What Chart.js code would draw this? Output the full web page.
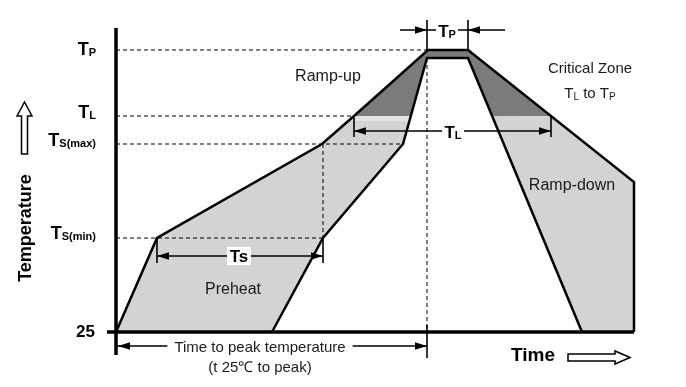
<!DOCTYPE html>
<html>
<head>
<meta charset="utf-8">
<script src="https://cdn.jsdelivr.net/npm/chart.js@4.4.0/dist/chart.umd.min.js"></script>
<style>
  html, body { margin: 0; padding: 0; background: #fff; overflow: hidden; }
  canvas { display: block; }
</style>
</head>
<body>
<canvas id="profile" width="686" height="387"></canvas>
<script>
// temperature levels (diagram units, not to scale)
const tP = 307, tPin = 299, tL = 241, tSmax = 213, tSmin = 119, tBase = 25;

// outer (upper) and inner (lower) edge of the profile band
const outerTime = [0, 41, 206, 238, 312, 352, 518, 518];
const outerTemp = [25, 119, 213, 241, 307, 307, 175, 25];
const innerTime = [156, 207, 287, 311, 352, 466];
const innerTemp = [25, 119, 213, 299, 299, 25];

// critical zone, T_L to T_P
const zoneTime = [238, 312, 352, 435, 376, 352, 311, 295];
const zoneTemp = [241, 307, 307, 241, 241, 299, 299, 241];

// pale strip just under T_L
const stripLeftTime = [232, 238, 295, 293];
const stripRightTime = [376, 435, 441, 378];
const stripTemp = [236, 241, 241, 236];

// y tick labels
const tickTemps = [tP, tL, tSmax, tSmin];
const tickSubs = ['P', 'L', 'S(max)', 'S(min)'];

const FONT = "'Liberation Sans', Arial, sans-serif";

const pts = (xs, ys) => xs.map((v, i) => ({ x: v, y: ys[i] }));
const path = (xs, ys, opts) => Object.assign({
  data: pts(xs, ys), showLine: true, pointRadius: 0,
  borderColor: '#000', borderWidth: 1, fill: false
}, opts);
const area = (xs, ys, color) => path(xs, ys, { fill: 'shape', backgroundColor: color, borderColor: 'transparent', borderWidth: 0 });
const dash = (x1, y1, x2, y2) => path([x1, x2], [y1, y2], { borderDash: [4, 3] });
const seg = (x1, y1, x2, y2, w) => path([x1, x2], [y1, y2], { borderWidth: w || 1.6 });

// band polygon = outer edge + inner edge reversed
const bandTime = outerTime.concat(innerTime.slice().reverse());
const bandTemp = outerTemp.concat(innerTemp.slice().reverse());

// datasets listed bottom -> top, reversed below for chart.js draw order
const layers = [
  area(bandTime, bandTemp, '#d3d3d3'),
  area(zoneTime, zoneTemp, '#7b7b7b'),
  area(stripLeftTime, stripTemp, '#e2e2e2'),
  area(stripRightTime, stripTemp, '#e2e2e2'),

  dash(0, tP, outerTime[4], tP),
  dash(0, tL, outerTime[3], tL),
  dash(0, tSmax, innerTime[2], tSmax),
  dash(0, tSmin, innerTime[1], tSmin),
  dash(innerTime[1], tSmax, innerTime[1], tSmin),
  dash(innerTime[3], tPin, innerTime[3], tBase),

  // Ts dimension
  seg(outerTime[1], 101, innerTime[1], 101),
  seg(outerTime[1], 94, outerTime[1], tSmin),
  seg(innerTime[1], 94, innerTime[1], tSmin),
  // TL dimension
  seg(outerTime[3], 226, 435, 226),
  seg(outerTime[3], 220, outerTime[3], 240),
  seg(435, 220, 435, 240),
  // TP dimension
  seg(284, 327, 389, 327),
  seg(innerTime[3], 337, innerTime[3], tP),
  seg(outerTime[5], 337, outerTime[5], tP),
  // time to peak
  seg(0, 11, innerTime[3], 11),
  seg(innerTime[3], 32, innerTime[3], -1),

  path(outerTime, outerTemp, { borderWidth: 2.5 }),
  path(innerTime, innerTemp, { borderWidth: 2.5 }),

  // axes
  seg(0, 2, 0, 329, 3.5),
  seg(-9, tBase, 518, tBase, 3.5)
];

function runs(ctx, px, py, list, align) {
  let total = 0;
  list.forEach(r => { ctx.font = r[1]; total += ctx.measureText(r[0]).width; });
  let x0 = align === 'right' ? px - total : align === 'center' ? px - total / 2 : px;
  ctx.textAlign = 'left';
  ctx.textBaseline = 'alphabetic';
  list.forEach(r => {
    ctx.font = r[1];
    ctx.fillText(r[0], x0, py + (r[2] || 0));
    x0 += ctx.measureText(r[0]).width;
  });
  return total;
}

function head(ctx, px, py, dir) {
  const s = dir === 'r' ? -1 : 1;
  ctx.beginPath();
  ctx.moveTo(px, py);
  ctx.lineTo(px + s * 12, py - 3.8);
  ctx.lineTo(px + s * 12, py + 3.8);
  ctx.closePath();
  ctx.fill();
}

function whiteBox(ctx, cx, cy, w, h) {
  ctx.fillStyle = '#fff';
  ctx.fillRect(cx - w / 2, cy - h / 2, w, h);
  ctx.fillStyle = '#000';
}

const annotate = {
  id: 'annotate',
  afterDatasetsDraw(chart) {
    const { ctx, scales: { x, y } } = chart;
    const X = v => x.getPixelForValue(v), Y = v => y.getPixelForValue(v);
    const bold = s => `bold ${s}px ${FONT}`;
    const reg = s => `${s}px ${FONT}`;
    ctx.save();
    ctx.fillStyle = '#000';

    // arrow heads
    head(ctx, X(outerTime[1]), Y(101), 'l');
    head(ctx, X(innerTime[1]), Y(101), 'r');
    head(ctx, X(outerTime[3]), Y(226), 'l');
    head(ctx, X(435), Y(226), 'r');
    head(ctx, X(innerTime[3]), Y(327), 'r');
    head(ctx, X(outerTime[5]), Y(327), 'l');
    head(ctx, X(0) + 2, Y(11), 'l');
    head(ctx, X(innerTime[3]), Y(11), 'r');

    // dimension labels
    whiteBox(ctx, X(123), Y(101), 24, 18);
    ctx.font = bold(17); ctx.textAlign = 'center'; ctx.textBaseline = 'middle';
    ctx.fillText('Ts', X(123), Y(101) + 1);

    whiteBox(ctx, X(337), Y(226), 22, 18);
    runs(ctx, X(337), Y(226) + 7, [['T', bold(17)], ['L', bold(11), 1]], 'center');

    whiteBox(ctx, X(331), Y(327), 22, 18);
    runs(ctx, X(331), Y(327) + 7, [['T', bold(17)], ['P', bold(11), 1]], 'center');

    ctx.font = reg(15);
    const w1 = ctx.measureText('Time to peak temperature').width;
    whiteBox(ctx, X(144), Y(11), w1 + 14, 16);
    ctx.fillStyle = '#1a1a1a';
    ctx.textAlign = 'center'; ctx.textBaseline = 'middle';
    ctx.fillText('Time to peak temperature', X(144), Y(9));
    ctx.fillText('(t 25\u2103 to peak)', X(144), Y(-11));

    // region labels
    ctx.font = reg(16);
    ctx.fillText('Ramp-up', X(212), Y(280));
    ctx.fillText('Ramp-down', X(456), Y(171));
    ctx.fillText('Preheat', X(117), Y(67));
    ctx.font = reg(15);
    ctx.fillText('Critical Zone', X(474), Y(288));
    runs(ctx, X(474), Y(265) + 6, [['T', reg(15)], ['L', reg(10), 2], [' to T', reg(15)], ['P', reg(10), 2]], 'center');

    // y tick labels
    ctx.fillStyle = '#000';
    const drops = [5, 2, 2, 1];
    tickTemps.forEach((t, i) => {
      runs(ctx, X(-20), Y(t) + drops[i], [['T', bold(18)], [tickSubs[i], bold(11), 1]], 'right');
    });
    ctx.font = bold(17); ctx.textAlign = 'right'; ctx.textBaseline = 'middle';
    ctx.fillText(String(tBase), X(-21), Y(tBase));

    // axis titles
    ctx.save();
    ctx.translate(X(-90), Y(129));
    ctx.rotate(-Math.PI / 2);
    ctx.font = bold(18); ctx.textAlign = 'center'; ctx.textBaseline = 'middle';
    ctx.fillText('Temperature', 0, 0);
    ctx.restore();

    ctx.font = bold(19); ctx.textAlign = 'center'; ctx.textBaseline = 'middle';
    ctx.fillText('Time', X(417), Y(1));

    // hollow arrows
    ctx.lineWidth = 1.5; ctx.strokeStyle = '#000';
    const ux = X(-91.5);
    ctx.beginPath();
    ctx.moveTo(ux, Y(255));
    ctx.lineTo(ux + 7.5, Y(241)); ctx.lineTo(ux + 3, Y(241)); ctx.lineTo(ux + 3, Y(203));
    ctx.lineTo(ux - 3, Y(203)); ctx.lineTo(ux - 3, Y(241)); ctx.lineTo(ux - 7.5, Y(241));
    ctx.closePath(); ctx.stroke();

    const ry = Y(-0.5);
    ctx.beginPath();
    ctx.moveTo(X(514), ry);
    ctx.lineTo(X(499), ry - 6.5); ctx.lineTo(X(499), ry - 3.5); ctx.lineTo(X(452), ry - 3.5);
    ctx.lineTo(X(452), ry + 3.5); ctx.lineTo(X(499), ry + 3.5); ctx.lineTo(X(499), ry + 6.5);
    ctx.closePath(); ctx.stroke();

    ctx.restore();
  }
};

new Chart(document.getElementById('profile'), {
  type: 'scatter',
  data: { datasets: layers.slice().reverse() },
  options: {
    responsive: false,
    animation: false,
    devicePixelRatio: 1,
    events: [],
    layout: { padding: 0 },
    plugins: { legend: { display: false }, tooltip: { enabled: false } },
    elements: { point: { radius: 0 }, line: { tension: 0 } },
    scales: {
      x: { type: 'linear', display: false, min: -116, max: 570 },
      y: { type: 'linear', display: false, min: -30, max: 357 }
    }
  },
  plugins: [annotate]
});
</script>
</body>
</html>
